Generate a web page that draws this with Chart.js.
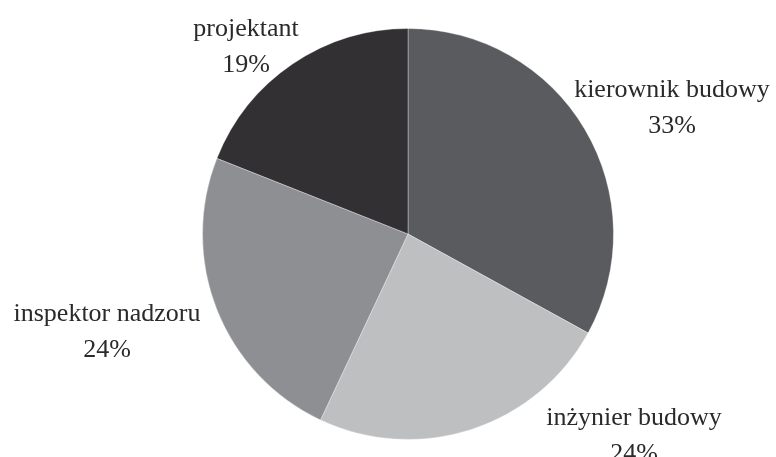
<!DOCTYPE html>
<html>
<head>
<meta charset="utf-8">
<script src="https://cdn.jsdelivr.net/npm/chart.js@4/dist/chart.umd.min.js"></script>
<style>
  html, body { margin: 0; padding: 0; background: #ffffff; }
  #wrap { width: 776px; height: 457px; }
</style>
</head>
<body>
<div id="wrap"><canvas id="c" width="776" height="457"></canvas></div>
<script>
const categories = ['kierownik budowy', 'inżynier budowy', 'inspektor nadzoru', 'projektant'];
const values = [33, 24, 24, 19];
const colors = ['#595b5e', '#bdbfc1', '#8e8f92', '#333034'];
// label anchor offsets (px) relative to the pie centre, first-line baseline centre
const labelOffsets = [[264, -137], [226, 191], [-301, 87], [-162, -198]];

const labelPlugin = {
  id: 'outerLabels',
  afterDatasetsDraw(chart) {
    const ctx = chart.ctx;
    const meta = chart.getDatasetMeta(0);
    ctx.save();
    ctx.font = '26px "Liberation Serif", "Times New Roman", serif';
    ctx.fillStyle = '#2a2a2a';
    ctx.textAlign = 'center';
    ctx.textBaseline = 'alphabetic';
    meta.data.forEach((arc, i) => {
      const x = arc.x + labelOffsets[i][0];
      const y = arc.y + labelOffsets[i][1];
      ctx.fillText(categories[i], x, y);
      ctx.fillText(values[i] + '%', x, y + 36);
    });
    ctx.restore();
  }
};

new Chart(document.getElementById('c'), {
  type: 'pie',
  data: {
    labels: categories,
    datasets: [{
      data: values,
      backgroundColor: colors,
      borderColor: 'rgba(255,255,255,0.35)',
      borderWidth: 1
    }]
  },
  options: {
    responsive: false,
    animation: false,
    layout: { padding: { left: 202, right: 162, top: 28, bottom: 17 } },
    plugins: {
      legend: { display: false },
      tooltip: { enabled: false }
    }
  },
  plugins: [labelPlugin]
});
</script>
</body>
</html>
